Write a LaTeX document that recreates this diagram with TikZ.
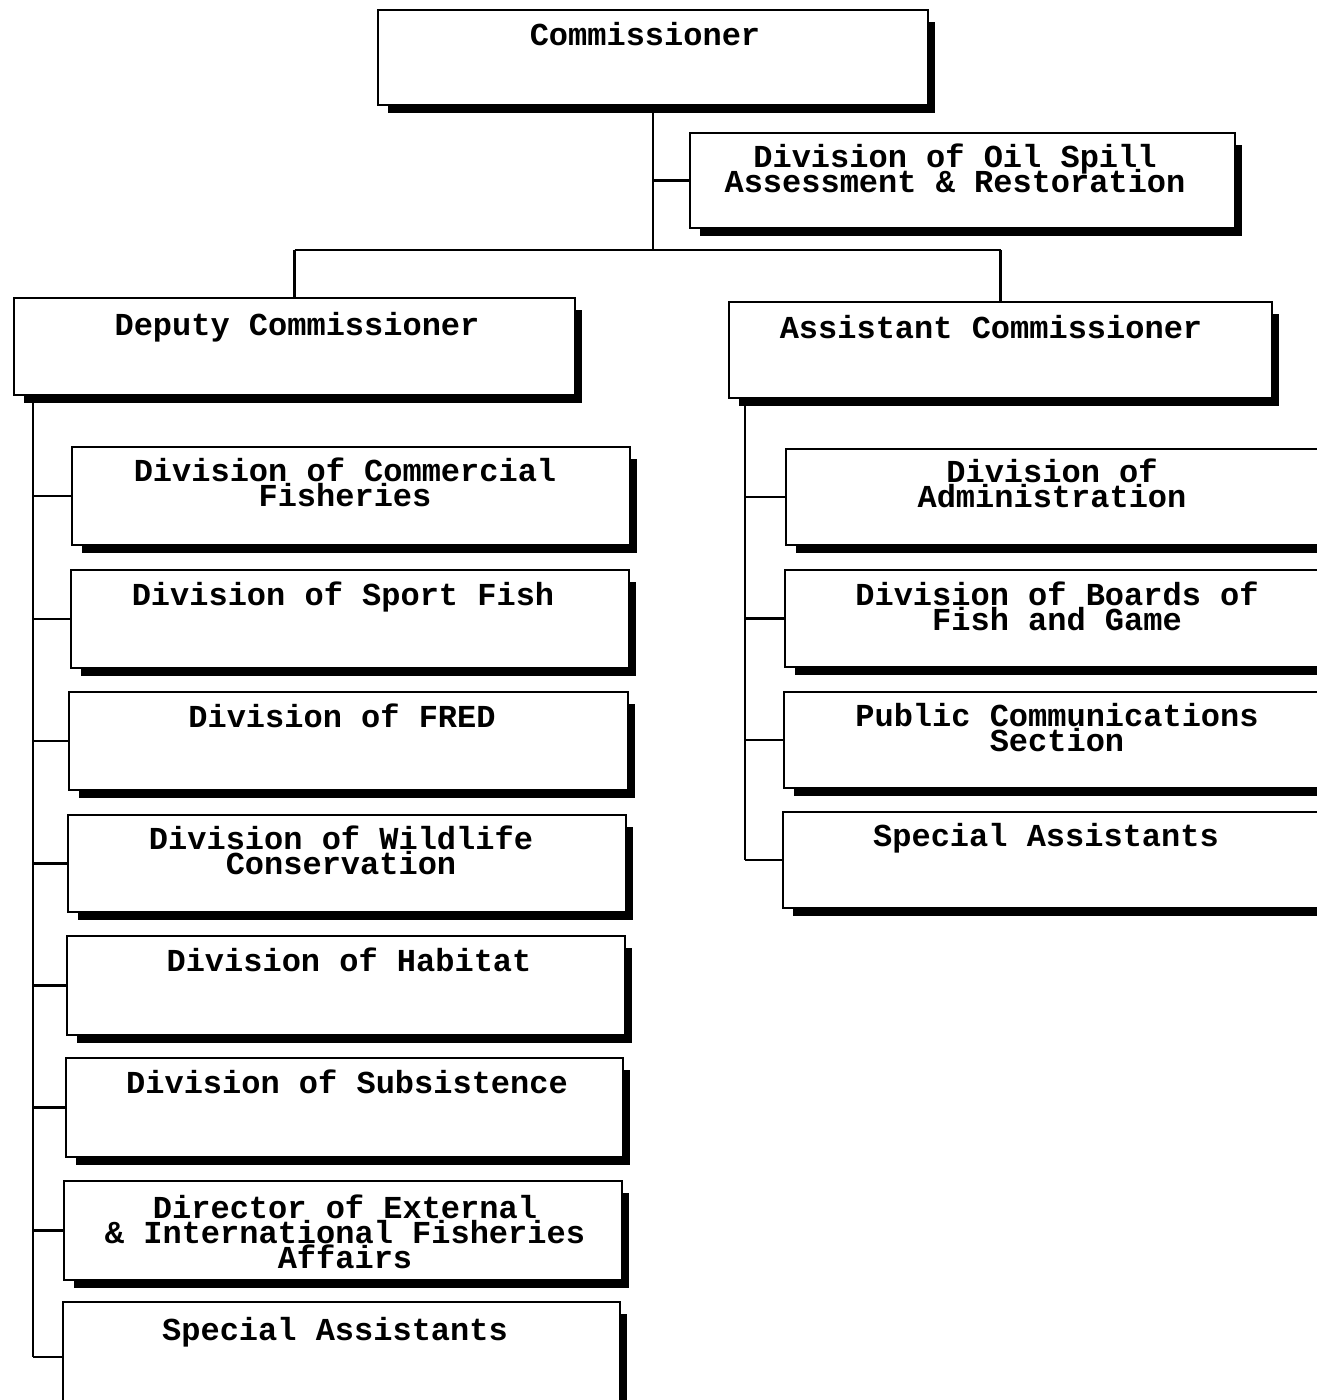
\documentclass[tikz,border=0pt]{standalone}
\usepackage{fontspec}
\newfontfamily\cour{Liberation Mono}
\tikzset{
  box/.style={draw=black, fill=white, line width=1.4pt, inner sep=0pt},
  shade/.style={fill=black},
  conn/.style={line width=2pt},
  lbl/.style={font={\cour\bfseries\fontsize{24}{18.75}\selectfont\lineskiplimit=-50pt}, align=center, inner sep=0pt, anchor=north},
}
\newcommand\orgbox[5]{%
  \fill[shade] ({#2+10},{#3+12}) rectangle ({#4+7},{#5+8});
  \node[box, minimum width={(#4-#2)*0.75pt}, minimum height={(#5-#3)*0.75pt}] (#1) at ({(#2+#4)/2},{(#3+#5)/2}) {};
}
\begin{document}
\begin{tikzpicture}[x=0.75pt, y=-0.75pt]
\useasboundingbox (0,0) rectangle (1317,1400);
\fill[white] (0,0) rectangle (1317,1400);
\clip (0,0) rectangle (1317,1400);

% top level
\orgbox{com}{378}{10}{928}{105}
\node[lbl] (comT) at (645,22) {Commissioner};
\orgbox{oil}{690}{133}{1235}{228}
\node[lbl] (oilT) at (955,144) {Division of Oil Spill\\Assessment \& Restoration};

\orgbox{dep}{14}{298}{575}{395}
\node[lbl] (depT) at (297,312) {Deputy Commissioner};
\orgbox{asst}{729}{302}{1272}{398}
\node[lbl] (asstT) at (991,315) {Assistant Commissioner};

% deputy children
\orgbox{c1}{72}{447}{630}{545}
\node[lbl] (c1T) at (345,458) {Division of Commercial\\Fisheries};
\orgbox{c2}{71}{570}{629}{668}
\node[lbl] (c2T) at (343,582) {Division of Sport Fish};
\orgbox{c3}{69}{692}{628}{790}
\node[lbl] (c3T) at (342,704) {Division of FRED};
\orgbox{c4}{68}{815}{626}{912}
\node[lbl] (c4T) at (341,826) {Division of Wildlife\\Conservation};
\orgbox{c5}{67}{936}{625}{1035}
\node[lbl] (c5T) at (349,948) {Division of Habitat};
\orgbox{c6}{66}{1058}{623}{1157}
\node[lbl] (c6T) at (347,1070) {Division of Subsistence};
\orgbox{c7}{64}{1181}{622}{1280}
\node[lbl] (c7T) at (345,1195) {Director of External\\\& International Fisheries\\Affairs};
\orgbox{c8}{63}{1302}{620}{1412}
\node[lbl] (c8T) at (335,1317) {Special Assistants};

% assistant children
\orgbox{r1}{786}{449}{1340}{545}
\node[lbl] (r1T) at (1052,459) {Division of\\Administration};
\orgbox{r2}{785}{570}{1340}{667}
\node[lbl] (r2T) at (1057,582) {Division of Boards of\\Fish and Game};
\orgbox{r3}{784}{692}{1340}{788}
\node[lbl] (r3T) at (1057,703) {Public Communications\\Section};
\orgbox{r4}{783}{812}{1340}{908}
\node[lbl] (r4T) at (1046,823) {Special Assistants};

% connectors
\coordinate (j) at (653,250);
\draw[conn] (com.south) -- (j);
\draw[conn] (com.south |- oil.west) -- (oil.west);
\draw[conn] (dep.north |- j) -- (asst.north |- j);
\draw[conn] (dep.north |- j) -- (dep.north);
\draw[conn] (asst.north |- j) -- (asst.north);

\coordinate (dtrunk) at (33,395);
\draw[conn] (dtrunk) -- (dtrunk |- c8.west);
\foreach \n in {c1,c2,c3,c4,c5,c6,c7,c8}
  \draw[conn] (dtrunk |- \n.west) -- (\n.west);

\coordinate (atrunk) at (745,398);
\draw[conn] (atrunk) -- (atrunk |- r4.west);
\foreach \n in {r1,r2,r3,r4}
  \draw[conn] (atrunk |- \n.west) -- (\n.west);
\end{tikzpicture}
\end{document}
